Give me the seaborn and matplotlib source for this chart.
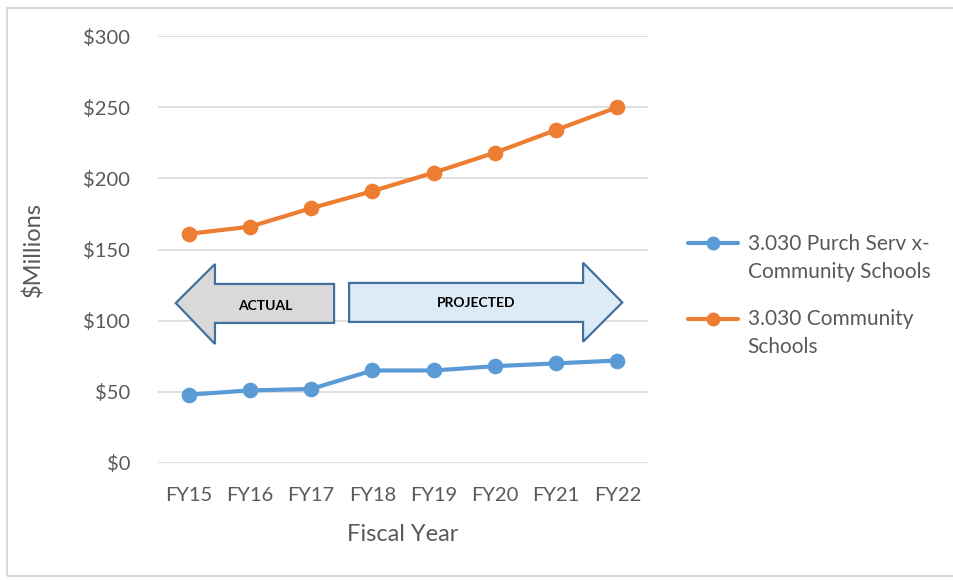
import matplotlib
matplotlib.use("Agg")
import matplotlib.pyplot as plt
from matplotlib.patches import Polygon, Rectangle
from matplotlib.lines import Line2D
from matplotlib.legend_handler import HandlerLine2D
import seaborn as sns
import pandas as pd

# Fiscal years and spending ($ millions)
years = ["FY15", "FY16", "FY17", "FY18", "FY19", "FY20", "FY21", "FY22"]
purch_serv = [48, 51, 52, 65, 65, 68, 70, 72]
community = [161, 166, 179, 191, 204, 218, 234, 250]
series_names = ["3.030 Purch Serv x-\nCommunity Schools", "3.030 Community\nSchools"]
series_colors = ["#5b9bd5", "#ed7d31"]
y_ticks = [0, 50, 100, 150, 200, 250, 300]

df = pd.DataFrame({
    "year": years * 2,
    "value": purch_serv + community,
    "series": [series_names[0]] * len(years) + [series_names[1]] * len(years),
})

sns.set_theme(style="white")
plt.rcParams["font.family"] = ["Lato", "DejaVu Sans"]
text_gray = "#595959"

fig = plt.figure(figsize=(9.54, 5.8), dpi=100)
ax = fig.add_axes([158 / 954, 1 - 463 / 580, 490 / 954, 427 / 580])

sns.pointplot(
    data=df, x="year", y="value", hue="series", order=years,
    hue_order=series_names, palette=series_colors, errorbar=None,
    markers="o", markersize=9, linewidth=3, ax=ax, legend=False,
)

ax.set_xlim(-0.5, len(years) - 0.5)
ax.set_ylim(0, 300)
ax.set_yticks(y_ticks)
ax.set_yticklabels([f"${v}" for v in y_ticks])
ax.grid(axis="y", color="#d9d9d9", linewidth=1.2)
ax.grid(axis="x", visible=False)
ax.set_axisbelow(True)
for s in ax.spines.values():
    s.set_visible(False)
ax.tick_params(axis="y", length=0, pad=20, labelsize=14.5, labelcolor=text_gray)
ax.tick_params(axis="x", length=0, pad=17, labelsize=14.5, labelcolor=text_gray)

ax.set_xlabel("Fiscal Year", fontsize=17, color=text_gray)
ax.set_ylabel("$Millions", fontsize=17, color=text_gray)
ax.xaxis.set_label_coords(0.5, -0.143)
ax.yaxis.set_label_coords(-0.232, 0.5)

# Actual / projected direction arrows
edge = "#41719c"
actual = Polygon(
    [(-0.21, 112.4), (0.43, 139.8), (0.43, 125.8), (2.375, 125.8),
     (2.375, 98.4), (0.43, 98.4), (0.43, 83.6)],
    closed=True, facecolor="#d9d9d9", edgecolor=edge, linewidth=1.6, zorder=4,
)
projected = Polygon(
    [(2.62, 126.5), (6.44, 126.5), (6.44, 140.7), (7.08, 112.8),
     (6.44, 85.2), (6.44, 99.1), (2.62, 99.1)],
    closed=True, facecolor="#ddebf7", edgecolor=edge, linewidth=1.6, zorder=4,
)
ax.add_patch(actual)
ax.add_patch(projected)
ax.text(1.25, 110.5, "ACTUAL", ha="center", va="center", fontsize=10,
        fontweight="bold", color="black", zorder=5)
ax.text(4.7, 112.5, "PROJECTED", ha="center", va="center", fontsize=10,
        fontweight="bold", color="black", zorder=5)


class FirstLineHandler(HandlerLine2D):
    """Legend line handle aligned with the first line of a two-line label."""

    def create_artists(self, legend, orig_handle, xdescent, ydescent,
                       width, height, fontsize, trans):
        artists = super().create_artists(legend, orig_handle, xdescent,
                                         ydescent, width, height, fontsize, trans)
        shift = 0.75 * fontsize
        for a in artists:
            a.set_ydata([y + shift for y in a.get_ydata()])
        return artists


handles = [
    Line2D([], [], color=c, linewidth=3, marker="o", markersize=9)
    for c in series_colors
]
leg = fig.legend(
    handles, series_names, loc="upper left",
    bbox_to_anchor=(680 / 954, 1 - 226 / 580), frameon=False,
    fontsize=15, labelcolor=text_gray, handlelength=2.4,
    handletextpad=0.45, labelspacing=1.3, borderaxespad=0,
    handler_map={Line2D: FirstLineHandler()},
)
for t in leg.get_texts():
    t.set_linespacing(1.5)

# Chart border
fig.patches.append(Rectangle(
    (7 / 954, 1 - 576 / 580), 1.2, 568 / 580, transform=fig.transFigure,
    fill=False, edgecolor="#d9d9d9", linewidth=1.5, zorder=0,
))

fig.savefig("out.png", dpi=100, facecolor="white")
